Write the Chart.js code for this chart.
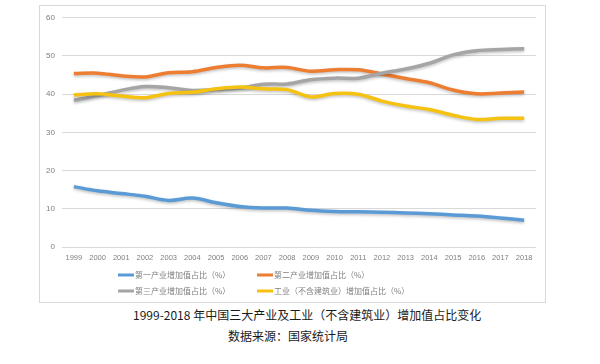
<!DOCTYPE html>
<html>
<head>
<meta charset="utf-8">
<script src="https://cdn.jsdelivr.net/npm/chart.js@4/dist/chart.umd.min.js"></script>
<style>
  html, body { margin: 0; padding: 0; background: #fff; }
  body { width: 600px; height: 364px; position: relative; overflow: hidden; }
  #box { position: absolute; left: 39px; top: 5px; width: 505px; height: 296px; border: 1px solid #d9d9d9; }
  .cap { position: absolute; font-family: "Noto Sans CJK SC", sans-serif; font-size: 12px; color: #1a1a1a; white-space: nowrap; line-height: 14px; }
</style>
</head>
<body>
<div id="box"><canvas id="myChart" width="505" height="296"></canvas></div>
<div class="cap" style="left:133px; top:308px;">1999-2018 年中国三大产业及工业（不含建筑业）增加值占比变化</div>
<div class="cap" style="left:228px; top:329px;">数据来源：国家统计局</div>
<script>
const years = ['1999', '2000', '2001', '2002', '2003', '2004', '2005', '2006', '2007', '2008',
  '2009', '2010', '2011', '2012', '2013', '2014', '2015', '2016', '2017', '2018'];

const seriesNames = ['第一产业增加值占比（%）', '第二产业增加值占比（%）',
  '第三产业增加值占比（%）', '工业（不含建筑业）增加值占比（%）'];

const primary = [15.8, 14.7, 14.0, 13.3, 12.2, 12.8, 11.6, 10.6, 10.2, 10.2,
  9.6, 9.3, 9.2, 9.1, 8.9, 8.7, 8.4, 8.1, 7.6, 7.0];
const secondary = [45.4, 45.5, 44.8, 44.5, 45.6, 45.9, 47.0, 47.6, 46.9, 47.0,
  46.0, 46.4, 46.4, 45.3, 44.1, 43.0, 41.1, 40.1, 40.3, 40.6];
const tertiary = [38.4, 39.6, 41.0, 42.0, 41.7, 41.0, 41.2, 41.6, 42.6, 42.7,
  43.8, 44.2, 44.2, 45.5, 46.6, 48.1, 50.3, 51.4, 51.7, 51.9];
const industry = [39.8, 40.1, 39.5, 39.1, 40.2, 40.5, 41.4, 41.9, 41.4, 41.2,
  39.3, 40.2, 40.0, 38.2, 36.9, 36.0, 34.5, 33.4, 33.7, 33.7];

const colors = ['#5b9bd5', '#ed7d31', '#a5a5a5', '#f5c211'];

const shadow = {
  id: 'shadow',
  beforeDatasetsDraw(chart) {
    const ctx = chart.ctx;
    ctx.save();
    ctx.shadowColor = 'rgba(0,0,0,0.25)';
    ctx.shadowBlur = 3;
    ctx.shadowOffsetY = 1.5;
  },
  afterDatasetsDraw(chart) {
    chart.ctx.restore();
  },
};

// two-column legend like the Excel one
const gridLegend = {
  id: 'gridLegend',
  afterDraw(chart) {
    const ctx = chart.ctx;
    const cols = [78, 217];
    const rows = [269, 285];
    ctx.save();
    ctx.font = '8px "Noto Sans CJK SC", sans-serif';
    ctx.textBaseline = 'middle';
    chart.data.datasets.forEach((ds, i) => {
      const x = cols[i % 2];
      const y = rows[Math.floor(i / 2)];
      ctx.strokeStyle = ds.borderColor;
      ctx.lineWidth = 3;
      ctx.beginPath();
      ctx.moveTo(x, y);
      ctx.lineTo(x + 16, y);
      ctx.stroke();
      ctx.fillStyle = '#7f7f7f';
      ctx.fillText(ds.label, x + 17, y);
    });
    ctx.restore();
  },
};

const series = [primary, secondary, tertiary, industry];

new Chart(document.getElementById('myChart'), {
  type: 'line',
  data: {
    labels: years,
    datasets: series.map((values, i) => ({
      label: seriesNames[i],
      data: values,
      borderColor: colors[i],
      backgroundColor: colors[i],
      borderWidth: 3.5,
      pointRadius: 0,
      tension: 0.35,
      order: 3 - i,
    })),
  },
  options: {
    responsive: false,
    animation: false,
    layout: { padding: { left: 0, right: 9, top: 10, bottom: 0 } },
    plugins: {
      legend: { display: false },
      tooltip: { enabled: false },
    },
    scales: {
      x: {
        offset: true,
        grid: { display: false, drawTicks: false },
        border: { display: false },
        ticks: {
          color: '#7f7f7f',
          font: { family: 'Liberation Sans', size: 7.5 },
          padding: 6,
          maxRotation: 0,
          autoSkip: false,
        },
        afterFit(scale) { scale.height = 55; },
      },
      y: {
        min: 0,
        max: 60,
        grid: { color: '#d9d9d9', drawTicks: false },
        border: { display: false },
        ticks: {
          stepSize: 10,
          color: '#7f7f7f',
          font: { family: 'Liberation Sans', size: 8 },
          padding: 7,
        },
        afterFit(scale) { scale.width = 22; },
      },
    },
  },
  plugins: [shadow, gridLegend],
});
</script>
</body>
</html>
